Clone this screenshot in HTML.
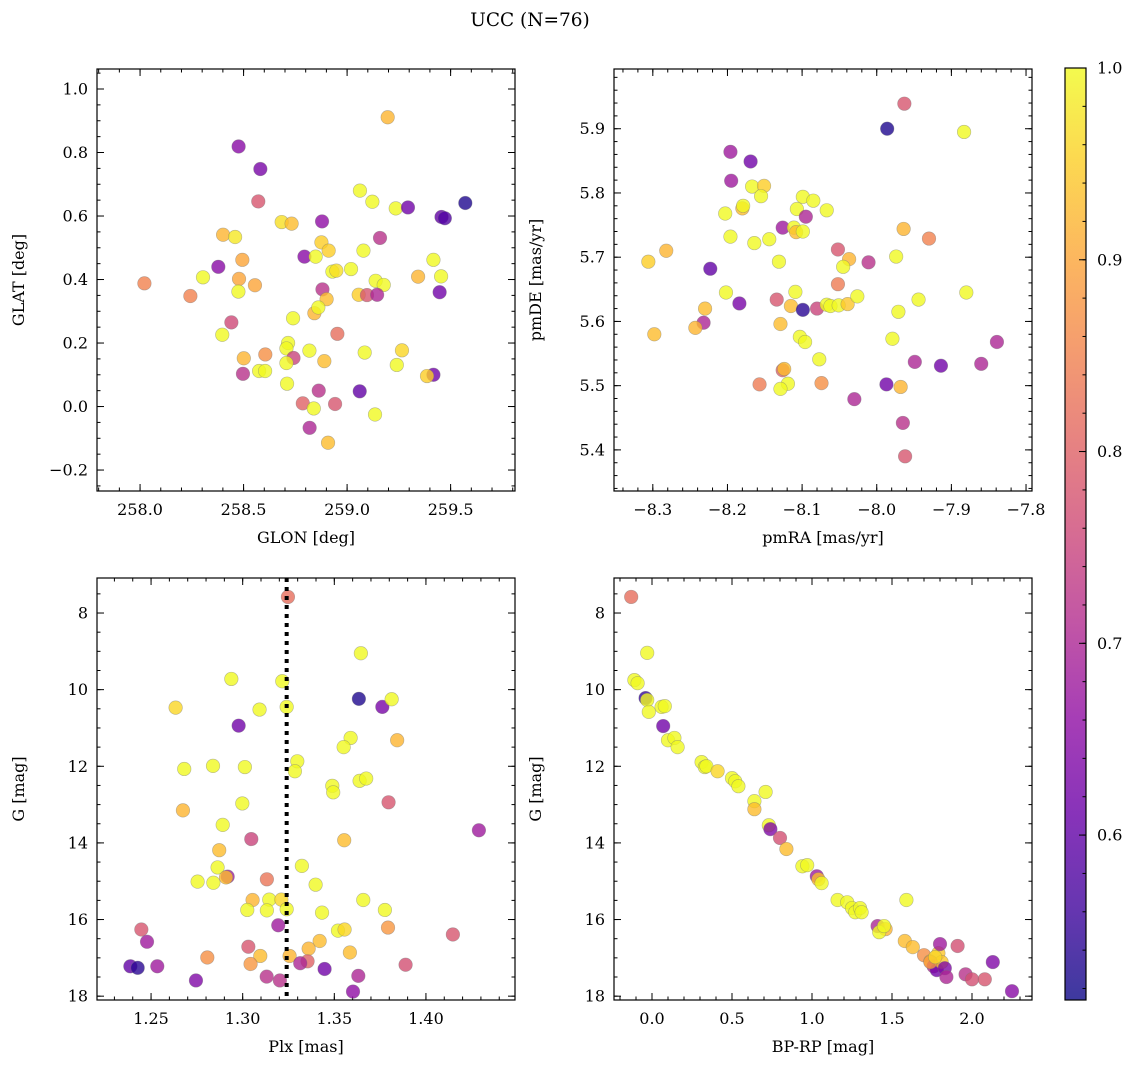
<!DOCTYPE html>
<html><head><meta charset="utf-8"><style>
html,body{margin:0;padding:0;background:#fff;}
svg{display:block;font-family:"DejaVu Serif","Liberation Serif",serif;}
</style></head><body>
<svg id="fig" width="1136" height="1068" viewBox="0 0 1136 1068" xmlns="http://www.w3.org/2000/svg">
<defs>
<linearGradient id="cbgrad" x1="0" y1="1" x2="0" y2="0">
<stop offset="0" stop-color="#0d0887"/><stop offset="0.1" stop-color="#41049d"/><stop offset="0.2" stop-color="#6a00a8"/><stop offset="0.3" stop-color="#8f0da4"/><stop offset="0.4" stop-color="#b12a90"/><stop offset="0.5" stop-color="#cc4778"/><stop offset="0.6" stop-color="#e16462"/><stop offset="0.7" stop-color="#f2844b"/><stop offset="0.8" stop-color="#fca636"/><stop offset="0.9" stop-color="#fcce25"/><stop offset="1" stop-color="#f0f921"/>
</linearGradient>
</defs>
<text x="530" y="26" font-size="18.5" text-anchor="middle">UCC (N=76)</text>
</svg>
<script>
// ---- Panel 1 data: GLON / GLAT ----
const glon=[258.021,258.243,258.304,258.378,258.401,258.459,258.476,258.581,258.571,258.494,258.478,258.555,258.475,258.441,258.397,258.501,258.497,258.575,258.604,258.605,258.684,258.732,258.879,258.794,258.848,258.876,258.911,258.929,258.948,258.739,258.881,258.901,258.842,258.861,258.715,258.707,258.741,258.707,258.818,258.890,258.710,258.953,258.786,258.839,258.863,258.942,258.819,258.908,259.062,259.122,259.196,259.235,259.294,259.456,259.472,259.571,259.159,259.079,259.019,259.138,259.177,259.056,259.096,259.145,259.343,259.417,259.454,259.447,259.085,259.265,259.240,259.417,259.386,259.061,259.135];
const glat=[0.388,0.348,0.407,0.440,0.541,0.534,0.819,0.748,0.646,0.462,0.402,0.382,0.362,0.265,0.226,0.152,0.103,0.112,0.112,0.164,0.581,0.576,0.583,0.472,0.472,0.517,0.491,0.425,0.428,0.278,0.369,0.338,0.294,0.312,0.200,0.183,0.153,0.137,0.176,0.143,0.072,0.229,0.010,-0.006,0.050,0.008,-0.067,-0.114,0.680,0.645,0.911,0.624,0.627,0.597,0.593,0.641,0.531,0.491,0.433,0.396,0.383,0.352,0.351,0.352,0.409,0.462,0.410,0.360,0.170,0.177,0.131,0.100,0.096,0.048,-0.025];
const prob1=[0.85,0.85,1,0.65,0.92,0.98,0.65,0.63,0.78,0.9,0.9,0.9,1,0.76,1,0.92,0.72,1,1,0.87,0.97,0.93,0.66,0.65,1,0.95,0.95,1,0.97,1,0.72,0.93,0.92,1,1,1,0.75,1,1,0.93,1,0.82,0.8,1,0.72,0.78,0.7,0.93,1,1,0.92,1,0.62,0.6,0.58,0.53,0.72,1,1,1,1,0.95,0.78,0.7,0.92,1,1,0.62,1,0.96,1,0.62,0.95,0.6,1];
// ---- Panel 2 data: pmRA / pmDE ----
const pmra=[-8.306,-8.282,-8.298,-8.223,-8.196,-8.169,-8.195,-8.167,-8.151,-8.155,-8.203,-8.180,-8.179,-8.196,-8.164,-8.144,-8.099,-8.085,-8.107,-8.095,-8.067,-8.126,-8.111,-8.108,-8.099,-8.131,-8.052,-8.037,-8.045,-8.011,-7.974,-7.964,-7.930,-7.986,-7.963,-7.883,-8.202,-8.184,-8.230,-8.232,-8.243,-8.134,-8.109,-8.115,-8.099,-8.080,-8.067,-8.062,-8.051,-8.039,-8.026,-8.052,-8.129,-8.103,-8.096,-8.077,-8.126,-8.124,-8.119,-8.129,-8.157,-8.074,-7.971,-7.944,-7.880,-7.979,-7.949,-7.914,-7.860,-7.839,-7.987,-7.968,-8.030,-7.965,-7.962];
const pmde=[5.693,5.710,5.580,5.682,5.864,5.849,5.819,5.810,5.811,5.795,5.768,5.776,5.780,5.732,5.722,5.728,5.794,5.788,5.775,5.763,5.773,5.746,5.746,5.739,5.740,5.693,5.712,5.697,5.685,5.692,5.701,5.744,5.729,5.900,5.939,5.895,5.645,5.628,5.620,5.598,5.590,5.634,5.646,5.624,5.618,5.620,5.626,5.624,5.625,5.627,5.639,5.658,5.596,5.576,5.568,5.541,5.524,5.526,5.503,5.495,5.502,5.504,5.615,5.634,5.645,5.573,5.537,5.531,5.534,5.568,5.502,5.498,5.479,5.442,5.390];
const prob2=[0.95,0.92,0.93,0.6,0.68,0.62,0.68,1,0.95,1,1,0.93,1,1,1,1,1,1,1,0.7,1,0.68,1,0.93,1,1,0.78,0.92,1,0.72,1,0.92,0.85,0.53,0.78,1,1,0.63,0.93,0.7,0.92,0.78,1,0.93,0.54,0.75,1,1,1,0.94,1,0.84,0.93,1,1,1,0.8,0.93,1,1,0.84,0.87,1,1,1,1,0.7,0.62,0.7,0.7,0.62,0.92,0.7,0.72,0.78];
// ---- Panel 3 data: Plx / G ----
const plx=[1.3247,1.3645,1.2938,1.3216,1.2634,1.3092,1.3240,1.3634,1.3762,1.3813,1.2978,1.3589,1.3551,1.3843,1.2681,1.2838,1.3012,1.3298,1.3285,1.3489,1.3494,1.3638,1.3674,1.2674,1.2998,1.3796,1.2891,1.3047,1.3554,1.4289,1.2872,1.2863,1.2918,1.2909,1.2754,1.2840,1.3132,1.3323,1.3398,1.3054,1.3145,1.3211,1.3025,1.3132,1.3240,1.3433,1.3658,1.3776,1.3194,1.3793,1.3520,1.3556,1.4147,1.2447,1.2478,1.3420,1.3360,1.3031,1.2807,1.3096,1.3256,1.3043,1.3585,1.3354,1.3314,1.2387,1.2427,1.2534,1.3447,1.3889,1.2745,1.3131,1.3203,1.3631,1.3602];
const gmag3=[7.58,9.05,9.72,9.78,10.47,10.52,10.45,10.24,10.45,10.25,10.94,11.26,11.50,11.32,12.07,11.99,12.02,11.87,12.13,12.51,12.68,12.38,12.32,13.15,12.97,12.94,13.53,13.90,13.93,13.67,14.19,14.64,14.88,14.90,15.01,15.04,14.95,14.60,15.09,15.49,15.48,15.48,15.75,15.76,15.73,15.82,15.49,15.75,16.15,16.21,16.29,16.26,16.39,16.26,16.58,16.56,16.76,16.71,16.99,16.95,16.95,17.16,16.86,17.09,17.14,17.22,17.26,17.22,17.29,17.18,17.59,17.49,17.59,17.47,17.88];
const prob3=[0.82,1,1,1,0.96,1,1,0.53,0.63,1,0.62,1,1,0.92,1,1,1,1,1,1,1,1,1,0.92,1,0.78,1,0.75,0.93,0.68,0.93,1,0.68,0.93,1,1,0.83,1,1,0.92,1,0.96,1,1,1,1,1,1,0.68,0.88,1,0.96,0.78,0.78,0.68,0.93,0.92,0.78,0.87,0.93,0.92,0.88,0.93,0.8,0.7,0.6,0.54,0.68,0.62,0.77,0.64,0.72,0.72,0.7,0.66];
const plxRef=[1.324];
// ---- Panel 4 data: BP-RP / G ----
const bprp=[-0.13,-0.03,-0.11,-0.09,-0.04,-0.03,-0.02,0.06,0.08,0.07,0.10,0.14,0.16,0.31,0.33,0.34,0.41,0.50,0.52,0.54,0.71,0.64,0.64,0.73,0.74,0.80,0.84,0.94,0.97,1.03,1.04,1.06,1.16,1.22,1.25,1.27,1.30,1.31,1.41,1.46,1.42,1.45,1.58,1.59,1.63,1.70,1.74,1.76,1.78,1.79,1.81,1.80,1.83,1.84,1.91,1.96,2.00,2.08,2.13,2.25,1.74,1.77];
const gmag4=[7.58,9.04,9.75,9.83,10.22,10.27,10.58,10.45,10.43,10.95,11.32,11.26,11.50,11.89,12.02,12.00,12.13,12.31,12.39,12.52,12.67,12.91,13.12,13.54,13.64,13.87,14.16,14.61,14.58,14.87,14.95,15.05,15.49,15.55,15.70,15.81,15.70,15.81,16.17,16.25,16.33,16.17,16.56,15.49,16.72,16.93,17.09,17.22,17.32,16.88,17.11,16.64,17.27,17.50,16.69,17.43,17.56,17.56,17.11,17.87,17.11,16.98];
const prob4=[0.82,1,1,1,0.55,1,1,1,1,0.62,1,1,1,1,1,1,0.96,1,1,1,1,1,0.93,1,0.64,0.77,0.93,1,1,0.68,0.93,1,1,1,1,1,1,1,0.7,0.92,1,1,0.93,1,0.93,0.87,0.94,0.7,0.62,0.94,0.94,0.68,0.64,0.7,0.77,0.72,0.77,0.78,0.64,0.65,0.88,0.96];
// ---- Tick labels ----
const p1xt=[258.0,258.5,259.0,259.5], p1yt=[-0.2,0.0,0.2,0.4,0.6,0.8,1.0];
const p2xt=[-8.3,-8.2,-8.1,-8.0,-7.9,-7.8], p2yt=[5.4,5.5,5.6,5.7,5.8,5.9];
const p3xt=[1.25,1.30,1.35,1.40], gyt=[8,10,12,14,16,18];
const p4xt=[0.0,0.5,1.0,1.5,2.0];
const cbt=[0.6,0.7,0.8,0.9,1.0];
const vmin=0.514, vmax=1.0;

const NS='http://www.w3.org/2000/svg';
const svg=document.getElementById('fig');
const stops=[[13,8,135],[65,4,157],[106,0,168],[143,13,164],[177,42,144],[204,71,120],[225,100,98],[242,132,75],[252,166,54],[252,206,37],[240,249,33]];
function cmap(v){let t=(v-vmin)/(vmax-vmin);t=Math.max(0,Math.min(1,t))*10;const i=Math.min(9,Math.floor(t)),f=t-i;const a=stops[i],b=stops[i+1];return 'rgb('+a.map((c,k)=>Math.round(c+(b[k]-c)*f)).join(',')+')';}
function el(tag,attrs,parent){const e=document.createElementNS(NS,tag);for(const k in attrs)e.setAttribute(k,attrs[k]);(parent||svg).appendChild(e);return e;}
function fmt(v,d){const s=Math.abs(v).toFixed(d);return (v<-1e-9?'\u2212':'')+s;}

function panel(o){
  const g=el('g',{});
  
  
  const X=v=>o.x0+(v-o.xmin)/(o.xmax-o.xmin)*(o.x1-o.x0);
  const Y=v=>o.y1-(v-o.ymin)/(o.ymax-o.ymin)*(o.y1-o.y0);
  function ticksX(step,len){const s=Math.ceil(Math.min(o.xmin,o.xmax)/step-1e-6);for(let k=s;k*step<=Math.max(o.xmin,o.xmax)+1e-9;k++){const px=X(k*step);if(px<o.x0||px>o.x1)continue;el('line',{x1:px,x2:px,y1:o.y1,y2:o.y1-len,stroke:'#000','stroke-width':1},g);el('line',{x1:px,x2:px,y1:o.y0,y2:o.y0+len,stroke:'#000','stroke-width':1},g);}}
  function ticksY(step,len){const lo=Math.min(o.ymin,o.ymax),hi=Math.max(o.ymin,o.ymax);const s=Math.ceil(lo/step-1e-6);for(let k=s;k*step<=hi+1e-9;k++){const py=Y(k*step);if(py<o.y0||py>o.y1)continue;el('line',{x1:o.x0,x2:o.x0+len,y1:py,y2:py,stroke:'#000','stroke-width':1},g);el('line',{x1:o.x1,x2:o.x1-len,y1:py,y2:py,stroke:'#000','stroke-width':1},g);}}
  ticksX(o.xminor,3.5);ticksX(o.xmajor,7);ticksY(o.yminor,3.5);ticksY(o.ymajor,7);
  o.xt.forEach(v=>{const t=el('text',{x:X(v),y:o.y1+24,'font-size':16,'text-anchor':'middle'},g);t.textContent=fmt(v,o.xd);});
  o.yt.forEach(v=>{const t=el('text',{x:o.x0-9,y:Y(v)+5.5,'font-size':16,'text-anchor':'end'},g);t.textContent=fmt(v,o.yd);});
  const xl=el('text',{x:(o.x0+o.x1)/2,y:o.y1+52,'font-size':16,'text-anchor':'middle'},g);xl.textContent=o.xlabel;
  
  const yc=(o.y0+o.y1)/2, yx=o.x0-73;
  const yl=el('text',{x:yx,y:yc,'font-size':16,'text-anchor':'middle',transform:'rotate(-90 '+yx+' '+yc+')'},g);yl.textContent=o.ylabel;
  
  const clip='c'+o.name;
  const cp=el('clipPath',{id:clip},g);el('rect',{x:o.x0,y:o.y0,width:o.x1-o.x0,height:o.y1-o.y0},cp);
  const pts=el('g',{'clip-path':'url(#'+clip+')'},g);
  o.xs.forEach((v,i)=>{
    const c=el('circle',{cx:X(v),cy:Y(o.ys[i]),r:6.8,fill:cmap(o.ps[i]),'fill-opacity':0.8,stroke:'#777','stroke-opacity':0.5,'stroke-width':0.6},pts);
    
    
  });
  if(o.vline){o.vline.forEach(v=>{const l=el('line',{x1:X(v),x2:X(v),y1:o.y0,y2:o.y1,stroke:'#000','stroke-width':4,'stroke-dasharray':'4,5'},g);});}
  el('rect',{x:o.x0,y:o.y0,width:o.x1-o.x0,height:o.y1-o.y0,fill:'none',stroke:'#000','stroke-width':1.2},g);
}
panel({name:'glon-glat-panel',x0:97,x1:515,y0:69,y1:491,xmin:257.792,xmax:259.811,ymin:-0.266,ymax:1.063,xmajor:0.5,xminor:0.1,ymajor:0.2,yminor:0.05,xt:p1xt,yt:p1yt,xd:1,yd:1,xlabel:'GLON [deg]',ylabel:'GLAT [deg]',xs:glon,ys:glat,ps:prob1});
panel({name:'proper-motion-panel',x0:614,x1:1032,y0:69,y1:491,xmin:-8.352,xmax:-7.792,ymin:5.336,ymax:5.993,xmajor:0.1,xminor:0.02,ymajor:0.1,yminor:0.02,xt:p2xt,yt:p2yt,xd:1,yd:1,xlabel:'pmRA [mas/yr]',ylabel:'pmDE [mas/yr]',xs:pmra,ys:pmde,ps:prob2});
panel({name:'plx-g-panel',x0:97,x1:515,y0:578,y1:1000,xmin:1.2205,xmax:1.4486,ymin:18.10,ymax:7.086,xmajor:0.05,xminor:0.01,ymajor:2,yminor:0.5,xt:p3xt,yt:gyt,xd:2,yd:0,xlabel:'Plx [mas]',ylabel:'G [mag]',xs:plx,ys:gmag3,ps:prob3,vline:plxRef});
panel({name:'cmd-panel',x0:614,x1:1032,y0:578,y1:1000,xmin:-0.2375,xmax:2.375,ymin:18.10,ymax:7.086,xmajor:0.5,xminor:0.1,ymajor:2,yminor:0.5,xt:p4xt,yt:gyt,xd:1,yd:0,xlabel:'BP-RP [mag]',ylabel:'G [mag]',xs:bprp,ys:gmag4,ps:prob4});
// colorbar
const cb=el('g',{});


const cbx=1065,cbw=21,cby0=68,cby1=1000;
el('rect',{x:cbx,y:cby0,width:cbw,height:cby1-cby0,fill:'url(#cbgrad)','fill-opacity':0.8},cb);
el('rect',{x:cbx,y:cby0,width:cbw,height:cby1-cby0,fill:'none',stroke:'#000','stroke-width':1.2},cb);
const CY=v=>cby1-(v-vmin)/(vmax-vmin)*(cby1-cby0);
for(let k=Math.ceil(vmin/0.02);k*0.02<=vmax+1e-9;k++){const py=CY(k*0.02);el('line',{x1:cbx+cbw,x2:cbx+cbw-3.5,y1:py,y2:py,stroke:'#000'},cb);}
cbt.forEach(v=>{const py=CY(v);el('line',{x1:cbx+cbw,x2:cbx+cbw-7,y1:py,y2:py,stroke:'#000'},cb);const t=el('text',{x:cbx+cbw+11,y:py+5.5,'font-size':16},cb);t.textContent=v.toFixed(1);});
</script>
</body></html>
